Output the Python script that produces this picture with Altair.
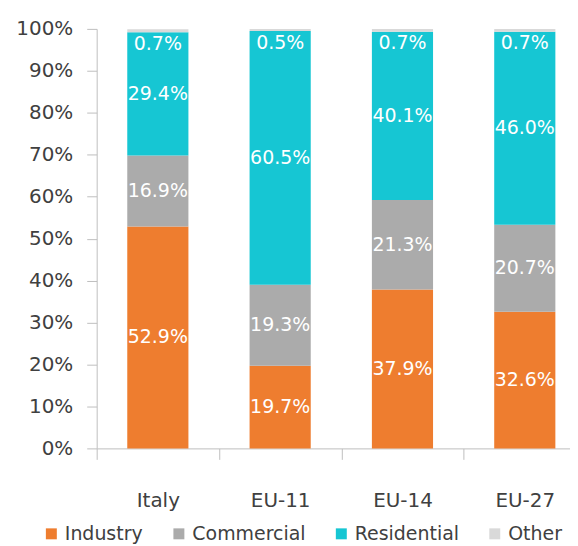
import altair as alt
import pandas as pd

regions = ["Italy", "EU-11", "EU-14", "EU-27"]
sectors = ["Industry", "Commercial", "Residential", "Other"]
industry = [52.9, 19.7, 37.9, 32.6]
commercial = [16.9, 19.3, 21.3, 20.7]
residential = [29.4, 60.5, 40.1, 46.0]
other = [0.7, 0.5, 0.7, 0.7]
colors = ["#EE7D2F", "#ABABAB", "#16C6D3", "#D9D9D9"]
y_ticks = [0, 0.1, 0.2, 0.3, 0.4, 0.5, 0.6, 0.7, 0.8, 0.9, 1.0]

series = [industry, commercial, residential, other]
rows = []
for si, (s, vals) in enumerate(zip(sectors, series)):
    for r, v in zip(regions, vals):
        rows.append({"region": r, "sector": s, "order": si, "value": v / 100})
df = pd.DataFrame(rows)

FONT = "DejaVu Sans"
TXT = "#404040"
AX = "#BFBFBF"
STEP = 491 / 4

x_enc = alt.X(
    "region:N",
    sort=regions,
    title=None,
    scale=alt.Scale(range=[0, 491], paddingInner=0.5, paddingOuter=0.25),
    axis=alt.Axis(
        labelAngle=0, labelFont=FONT, labelFontSize=20, labelColor=TXT,
        labelPadding=31, tickOffset=-STEP / 2, labelOffset=STEP / 2,
        tickSize=11, tickColor=AX, domainColor=AX, grid=False,
    ),
)

bars = alt.Chart(df).mark_bar().encode(
    x=x_enc,
    y=alt.Y(
        "value:Q",
        stack="zero",
        title=None,
        scale=alt.Scale(domain=[0, 1], nice=False),
        axis=alt.Axis(
            values=y_ticks, format=".0%", labelFont=FONT, labelFontSize=20,
            labelColor=TXT, labelPadding=14, tickSize=10, tickColor=AX,
            domainColor=AX, grid=False,
        ),
    ),
    color=alt.Color(
        "sector:N",
        sort=sectors,
        scale=alt.Scale(domain=sectors, range=colors),
        legend=alt.Legend(
            title=None, orient="none", direction="horizontal",
            legendX=-55, legendY=497, labelFont=FONT, labelFontSize=19,
            labelColor=TXT, symbolType="square", symbolSize=121,
            symbolStrokeWidth=0, labelOffset=4, columnPadding=26,
        ),
    ),
    order=alt.Order("order:Q"),
)

base_text = alt.Chart(df).transform_stack(
    stack="value", groupby=["region"], sort=[alt.SortField("order")], as_=["y0", "y1"]
).transform_calculate(mid="(datum.y0 + datum.y1) / 2")

labels_main = base_text.transform_filter(alt.datum.sector != "Other").mark_text(
    font=FONT, fontSize=19, color="white"
).encode(
    x=alt.X("region:N", sort=regions),
    y=alt.Y("mid:Q"),
    text=alt.Text("value:Q", format=".1%"),
)

labels_other = base_text.transform_filter(alt.datum.sector == "Other").mark_text(
    font=FONT, fontSize=19, color="white", dy=13
).encode(
    x=alt.X("region:N", sort=regions),
    y=alt.Y("mid:Q"),
    text=alt.Text("value:Q", format=".1%"),
)

chart = alt.layer(bars, labels_main, labels_other).properties(
    width=475, height=421,
    autosize=alt.AutoSizeParams(type="none"),
    padding={"top": 20, "left": 89, "right": 0, "bottom": 97},
).configure_view(stroke=None)

chart.save("out.html", embed_options={"renderer": "svg", "actions": False})
